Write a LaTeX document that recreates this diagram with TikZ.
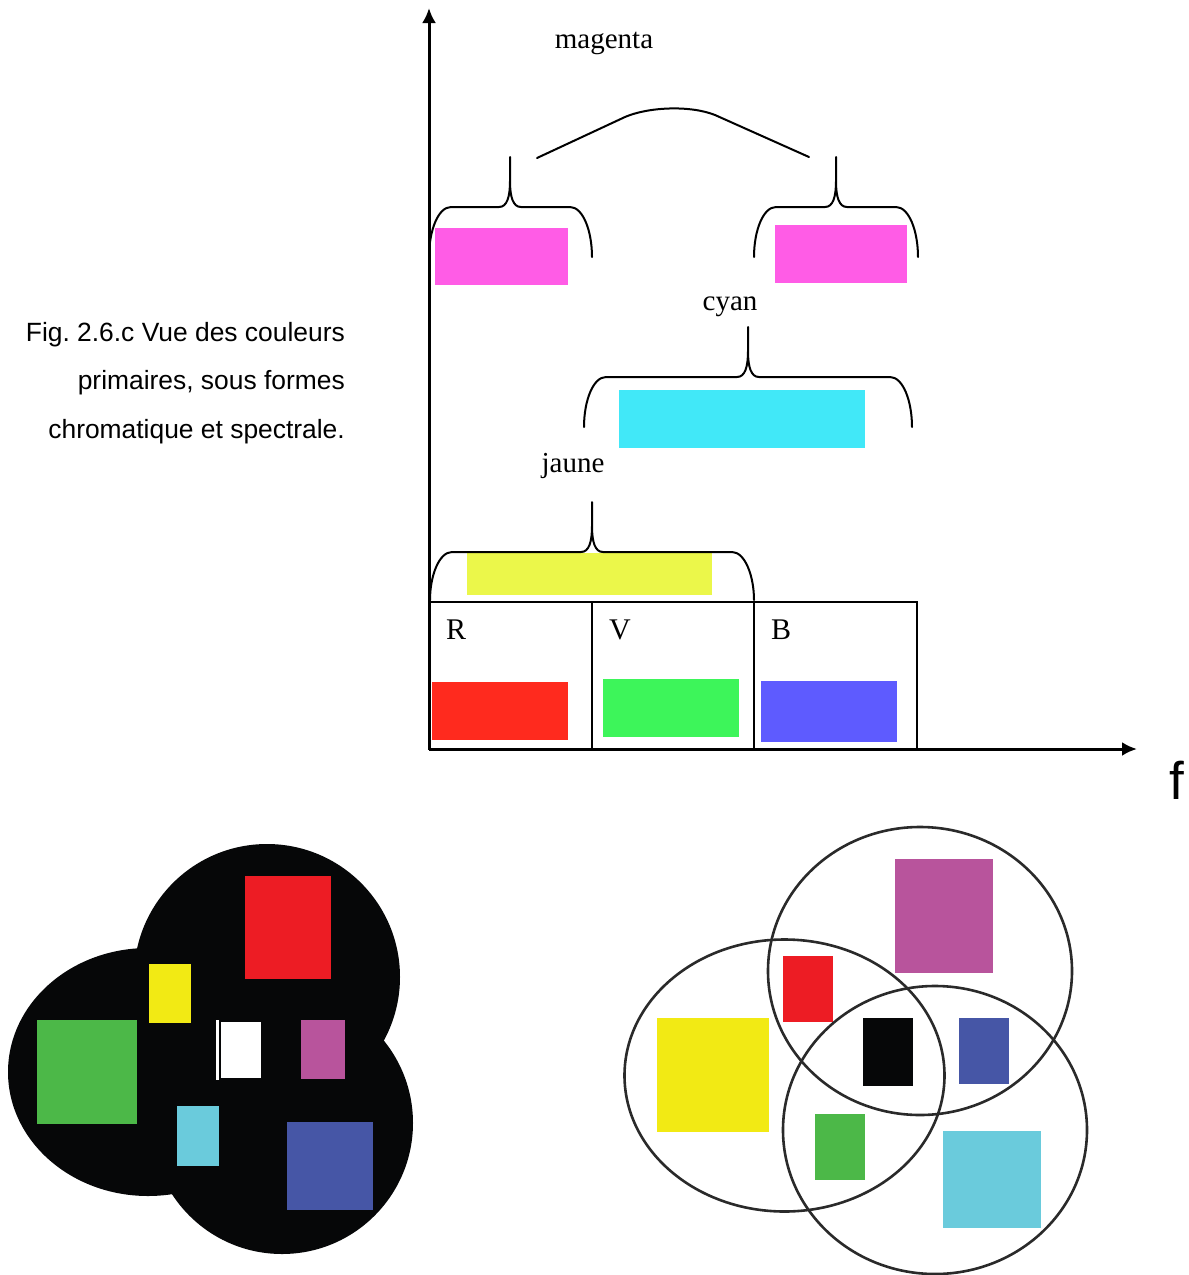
\documentclass[tikz,border=0pt]{standalone}
\usepackage{fontspec}
\setmainfont{Liberation Serif}
\newfontfamily\capfont{Liberation Sans}
\usetikzlibrary{arrows.meta}
\frenchspacing

% spectral bands
\definecolor{bandR}{HTML}{FF2A1E}
\definecolor{bandV}{HTML}{3DF55A}
\definecolor{bandB}{HTML}{5E5BFF}
\definecolor{bandJ}{HTML}{EBF74A}
\definecolor{bandC}{HTML}{41E8F8}
\definecolor{bandM}{HTML}{FF5CE6}
% chromatic patches
\definecolor{chR}{HTML}{ED1C24}
\definecolor{chJ}{HTML}{F2EA14}
\definecolor{chV}{HTML}{4CB848}
\definecolor{chM}{HTML}{B8549C}
\definecolor{chC}{HTML}{6ACBDC}
\definecolor{chB}{HTML}{4656A6}
\definecolor{chK}{HTML}{060708}
\definecolor{ring}{HTML}{2A2A2A}

% curly brace: left x, right x, foot y, bar y, tip x, tip y
\newcommand{\specbrace}[6]{%
  \draw[bracestyle] (#1,#3) .. controls (#1,#4+24) and (#1+9,#4) .. (#1+22,#4)
    -- (#5-11,#4) .. controls (#5-3,#4) and (#5,#4-10) .. (#5,#4-26) -- (#5,#6)
    (#5,#4-26) .. controls (#5,#4-10) and (#5+3,#4) .. (#5+11,#4)
    -- (#2-22,#4) .. controls (#2-9,#4) and (#2,#4+24) .. (#2,#3);}

\begin{document}
\begin{tikzpicture}[x=1pt,y=-1pt,
  axisline/.style={line width=3pt,-{Latex[length=15pt,width=14pt]}},
  tableline/.style={line width=2.4pt},
  bracestyle/.style={line width=2pt,line cap=round},
  bandlabel/.style={font=\fontsize{30}{32}\selectfont,anchor=base west,inner sep=0pt},
  colname/.style={font=\fontsize{29}{32}\selectfont,anchor=base,inner sep=0pt},
  captext/.style={font=\capfont\fontsize{26.4}{30}\selectfont,anchor=base east,inner sep=0pt},
  ringstyle/.style={draw=ring,line width=2.6pt}
]
\useasboundingbox (0,0) rectangle (1189,1275);

% ---------- spectral view ----------
% colour bands
\fill[bandM] (435,228) rectangle (568,285);
\fill[bandM] (775,225) rectangle (907,283);
\fill[bandC] (619,390) rectangle (865,448);
\fill[bandJ] (467,553) rectangle (712,595);
\fill[bandR] (432,682) rectangle (568,740);
\fill[bandV] (603,679) rectangle (739,737);
\fill[bandB] (761,681) rectangle (897,742);

% R V B table
\draw[tableline] (429,602) rectangle (917,749);
\draw[tableline] (592,602) -- (592,749);
\draw[tableline] (754,602) -- (754,749);
\node[bandlabel] (lR) at (446,639) {R};
\node[bandlabel] (lV) at (609,639) {V};
\node[bandlabel] (lB) at (771,639) {B};

% axes
\coordinate (O) at (429,749);
\coordinate (ytip) at (429,8);
\coordinate (xtip) at (1137,749);
\draw[axisline] (O) -- (ytip);
\draw[axisline] (O) -- (xtip);
\node[font=\capfont\fontsize{53}{56}\selectfont,anchor=base,inner sep=0pt] (f) at (1177,799) {f};

% braces
\specbrace{430}{754}{600}{552}{592}{502}
\specbrace{584}{912}{427}{377}{748}{327}
\specbrace{429}{592}{257}{207}{510}{157}
\specbrace{754}{918}{257}{207}{836}{157}
\draw[bracestyle] (537,158) -- (625,117) .. controls (648,107) and (690,105) .. (715,115) -- (809,157);

\node[colname] (magenta) at (604,48) {magenta};
\node[colname] (cyan) at (730,310) {cyan};
\node[colname] (jaune) at (573,472) {jaune};

% caption
\node[captext] (cap1) at (345,341) {Fig. 2.6.c Vue des couleurs};
\node[captext] (cap2) at (345,389) {primaires, sous formes};
\node[captext] (cap3) at (345,438) {chromatique et spectrale.};

% ---------- additive synthesis (black ground) ----------
\fill[chK] (148,1072) ellipse [x radius=140, y radius=124];
\fill[chK] (267,977) circle [radius=133];
\fill[chK] (282,1123) circle [radius=131];
\fill[chR] (245,876) rectangle (331,979);
\fill[chJ] (149,964) rectangle (191,1023);
\fill[chV] (37,1020) rectangle (137,1124);
\fill[white] (221,1022) rectangle (261,1078);
\fill[white] (216,1020) rectangle (218.5,1080);
\fill[chM] (301,1020) rectangle (345,1079);
\fill[chC] (177,1106) rectangle (219,1166);
\fill[chB] (287,1122) rectangle (373,1210);

% ---------- subtractive synthesis (white ground) ----------
\fill[chM] (895,859) rectangle (993,973);
\fill[chR] (783,956) rectangle (833,1022);
\fill[chJ] (657,1018) rectangle (769,1132);
\fill[chK] (863,1018) rectangle (913,1086);
\fill[chB] (959,1018) rectangle (1009,1084);
\fill[chV] (815,1114) rectangle (865,1180);
\fill[chC] (943,1131) rectangle (1041,1228);
\draw[ringstyle] (920,971) ellipse [x radius=152, y radius=144];
\draw[ringstyle] (784.5,1075.5) ellipse [x radius=160, y radius=136];
\draw[ringstyle] (935,1130) ellipse [x radius=152, y radius=144];
\end{tikzpicture}
\end{document}
